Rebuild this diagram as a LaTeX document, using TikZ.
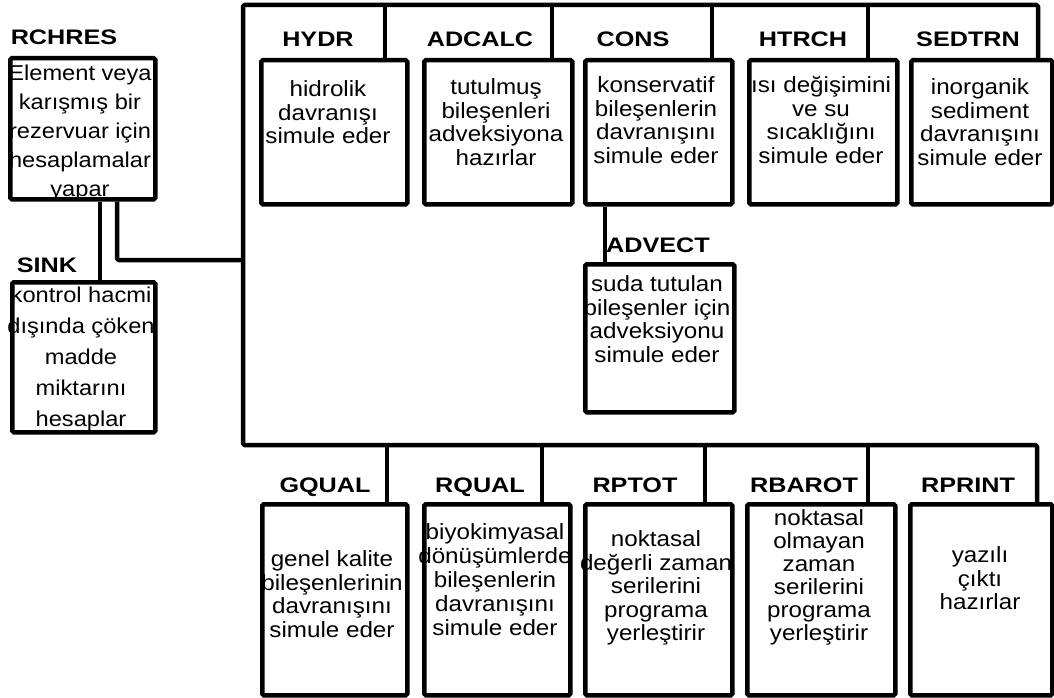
\documentclass[tikz,border=0pt]{standalone}
\usepackage{fontspec}
\setmainfont{Liberation Sans}[FakeStretch=1.1]
\newfontfamily\labelfont{Liberation Sans}[FakeStretch=1.2]
\begin{document}
\begin{tikzpicture}[x=1pt,y=-1pt,
  frame/.style={line width=4.5pt, line join=round, rounded corners=1.5pt},
  box/.style={draw, line width=4.5pt, rounded corners=1.5pt, inner sep=0pt, anchor=north west},
  lbl/.style={font=\labelfont\bfseries\fontsize{21}{24}\selectfont, anchor=base, inner sep=0pt},
  txt/.style={font=\fontsize{22}{23.5}\selectfont, align=center, anchor=north, inner sep=0pt,
              execute at begin node=\strut},
]
\useasboundingbox (0,0) rectangle (1054,698);

% ---------- left column ----------
\node[box, minimum width=145pt, minimum height=141pt] (rchres) at (8,56) {};
\node[box, minimum width=143pt, minimum height=150pt] (sink) at (10,280) {};
\node[lbl] (rchres-l) at (64,45) {RCHRES};
\node[lbl] (sink-l) at (47,272) {SINK};
\node[txt, font=\fontsize{21.5}{29}\selectfont] (rchres-t) at (80,65)
  {Element veya\\karışmış bir\\rezervuar için\\hesaplamalar\\yapar};
\node[txt, font=\fontsize{21.5}{31}\selectfont] (sink-t) at (81,287)
  {kontrol hacmi\\dışında çöken\\madde\\miktarını\\hesaplar};

% ---------- upper row ----------
\node[box, minimum width=146pt, minimum height=144pt] (hydr)   at (259,58) {};
\node[box, minimum width=148pt, minimum height=144pt] (adcalc) at (422,58) {};
\node[box, minimum width=147pt, minimum height=144pt] (cons)   at (583,58) {};
\node[box, minimum width=148pt, minimum height=144pt] (htrch)  at (747,58) {};
\node[box, minimum width=141pt, minimum height=144pt] (sedtrn) at (909,58) {};
\node[box, minimum width=149pt, minimum height=148pt] (advect) at (583,262) {};

\node[lbl] (hydr-l)   at (318,47) {HYDR};
\node[lbl] (adcalc-l) at (480,47) {ADCALC};
\node[lbl] (cons-l)   at (633,47) {CONS};
\node[lbl] (htrch-l)  at (803,47) {HTRCH};
\node[lbl] (sedtrn-l) at (968,47) {SEDTRN};
\node[lbl] (advect-l) at (658,252) {ADVECT};

\node[txt] (hydr-t)   at (328,80.5) {hidrolik\\davranışı\\simule eder};
\node[txt] (adcalc-t) at (496,78.5) {tutulmuş\\bileşenleri\\adveksiyona\\hazırlar};
\node[txt] (cons-t)   at (656,76.5) {konservatif\\bileşenlerin\\davranışını\\simule eder};
\node[txt] (htrch-t)  at (821,76.5) {ısı değişimini\\ve su\\sıcaklığını\\simule eder};
\node[txt] (sedtrn-t) at (980,78.5) {inorganik\\sediment\\davranışını\\simule eder};
\node[txt] (advect-t) at (657,275.5) {suda tutulan\\bileşenler için\\adveksiyonu\\simule eder};

% ---------- lower row ----------
\node[box, minimum width=145pt, minimum height=191pt] (gqual)  at (260,502) {};
\node[box, minimum width=146pt, minimum height=191pt] (rqual)  at (422,502) {};
\node[box, minimum width=147pt, minimum height=191pt] (rptot)  at (583,502) {};
\node[box, minimum width=148pt, minimum height=191pt] (rbarot) at (745,502) {};
\node[box, minimum width=142pt, minimum height=191pt] (rprint) at (908,502) {};

\node[lbl] (gqual-l)  at (325,492) {GQUAL};
\node[lbl] (rqual-l)  at (480,492) {RQUAL};
\node[lbl] (rptot-l)  at (635,492) {RPTOT};
\node[lbl] (rbarot-l) at (804,492) {RBAROT};
\node[lbl] (rprint-l) at (968,492) {RPRINT};

\node[txt] (gqual-t)  at (332,550.5) {genel kalite\\bileşenlerinin\\davranışını\\simule eder};
\node[txt, font=\fontsize{22}{24.2}\selectfont] (rqual-t) at (495,523)
  {biyokimyasal\\dönüşümlerde\\bileşenlerin\\davranışını\\simule eder};
\node[txt] (rptot-t)  at (656,530.5) {noktasal\\değerli zaman\\serilerini\\programa\\yerleştirir};
\node[txt, font=\fontsize{22}{23}\selectfont] (rbarot-t) at (819,509)
  {noktasal\\olmayan\\zaman\\serilerini\\programa\\yerleştirir};
\node[txt] (rprint-t) at (980,546.5) {yazılı\\çıktı\\hazırlar};

% ---------- frame coordinates ----------
\coordinate (trunktop) at (243,5);
\coordinate (trunkbot) at (243,445);
\coordinate (tr) at (1038,5);
\coordinate (br) at (1037,445);
\coordinate (tap) at (243,260);
\coordinate (xa) at (100,0);
\coordinate (xb) at (117,0);
\coordinate (xc) at (605,0);
\coordinate (u1) at (385,5);
\coordinate (u2) at (552,5);
\coordinate (u3) at (712,5);
\coordinate (u4) at (868,5);
\coordinate (l1) at (387,445);
\coordinate (l2) at (542,445);
\coordinate (l3) at (705,445);
\coordinate (l4) at (868,445);

% trunk with the upper and lower bars
\draw[frame] (tr |- sedtrn.north) -- (tr) -- (trunktop) -- (trunkbot) -- (br) -- (br |- rprint.north);
\foreach \c/\m in {u1/hydr, u2/adcalc, u3/cons, u4/htrch}
  \draw[frame] (\c) -- (\c |- \m.north);
\foreach \c/\m in {l1/gqual, l2/rqual, l3/rptot, l4/rbarot}
  \draw[frame] (\c) -- (\c |- \m.north);

% reservoir links
\draw[frame] (rchres.south -| xa) -- (sink.north -| xa);
\draw[frame] (rchres.south -| xb) |- (tap);

% conservative -> advection
\draw[frame] (cons.south -| xc) -- (advect.north -| xc);
\end{tikzpicture}
\end{document}
